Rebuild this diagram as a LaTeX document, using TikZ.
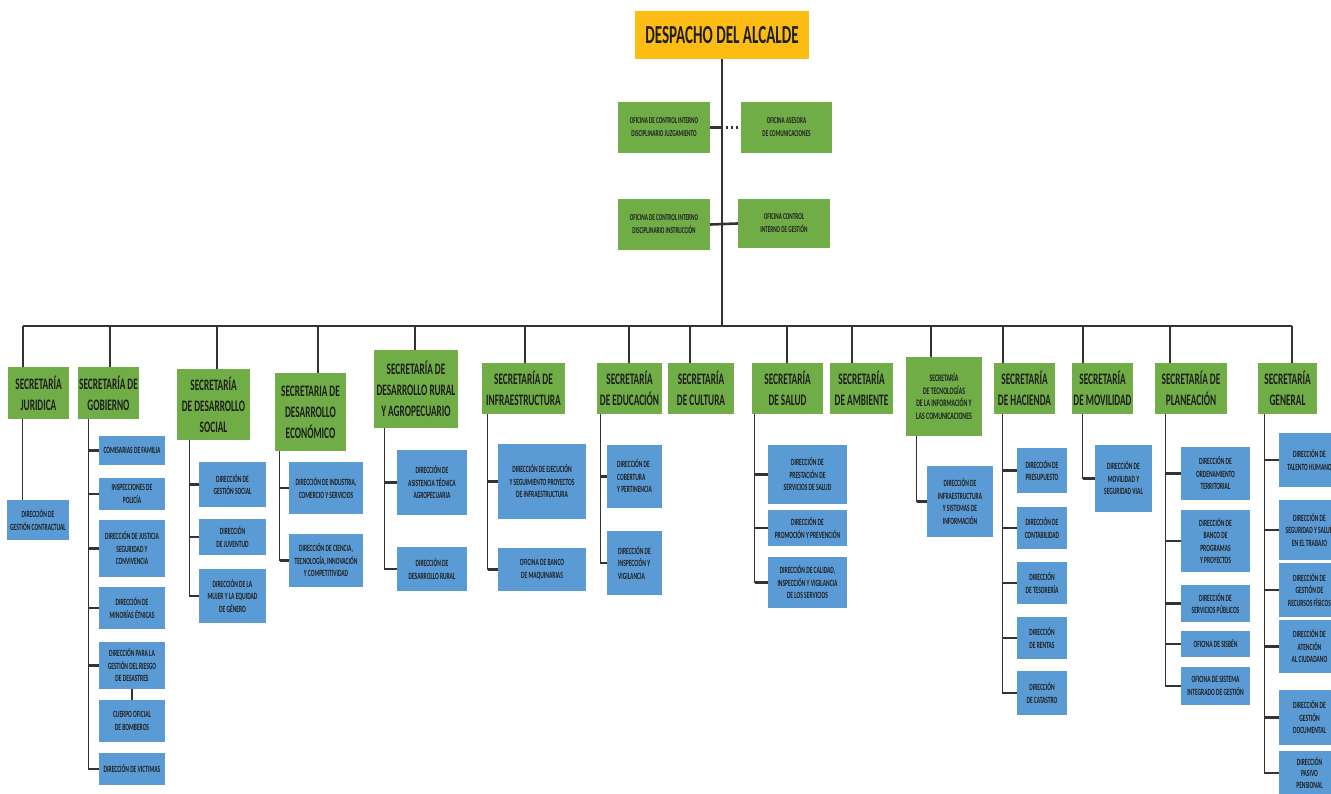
\documentclass[tikz,border=0pt]{standalone}
\usepackage{fontspec}
\setmainfont{Carlito}
\newfontfamily\narrowfont[FakeStretch=0.58]{Carlito}
\usetikzlibrary{calc}
\definecolor{alcgold}{RGB}{252,188,20}
\definecolor{secgreen}{RGB}{112,173,71}
\definecolor{dirblue}{RGB}{91,155,213}
\definecolor{txtdark}{RGB}{30,30,30}

\begin{document}
\begin{tikzpicture}[x=1pt,y=-1pt,
 sz/.style 2 args={minimum width=#1,minimum height=#2,inner sep=0pt,align=center,text=txtdark},
 alc/.style={fill=alcgold,font=\narrowfont\bfseries\fontsize{26}{30}\selectfont},
 ofi/.style={fill=secgreen,font=\narrowfont\bfseries\fontsize{9}{13}\selectfont},
 sec/.style={fill=secgreen,font=\narrowfont\bfseries\fontsize{16}{21}\selectfont},
 dir/.style={fill=dirblue,font=\narrowfont\bfseries\fontsize{9.5}{12.5}\selectfont},
 conn/.style={draw=black!80,line width=1.3pt},
 tick/.style={draw=black!80,line width=2.6pt}]
\useasboundingbox (0,0) rectangle (1331,794);
\clip (0,0) rectangle (1331,794);
%despacho
  \node[alc,sz={174}{48}] (alc) at (722,35) {DESPACHO DEL ALCALDE};
%oficinas
  \node[ofi,sz={92}{51}] (ocj) at (664,127.5) {OFICINA DE CONTROL INTERNO\\DISCIPLINARIO JUZGAMIENTO};
  \node[ofi,sz={91}{51}] (oac) at (786.5,127.5) {OFICINA ASESORA\\DE COMUNICACIONES};
  \node[ofi,sz={92}{51}] (oci) at (664,224.5) {OFICINA DE CONTROL INTERNO\\DISCIPLINARIO INSTRUCCIÓN};
  \node[ofi,sz={92}{49}] (ocg) at (784,223.5) {OFICINA CONTROL\\INTERNO DE GESTIÓN};
%secretarias
  \node[sec,sz={61}{52}] (jur) at (38.5,393) {SECRETARÍA\\JURIDICA};
  \node[sec,sz={61}{52}] (gob) at (108.5,393) {SECRETARÍA DE\\GOBIERNO};
  \node[sec,sz={73}{71}] (soc) at (213.5,404.5) {SECRETARÍA\\DE DESARROLLO\\SOCIAL};
  \node[sec,sz={71}{78}] (eco) at (310.5,412) {SECRETARIA DE\\DESARROLLO\\ECONÓMICO};
  \node[sec,sz={84}{78}] (rur) at (416,389) {SECRETARÍA DE\\DESARROLLO RURAL\\Y AGROPECUARIO};
  \node[sec,sz={83}{51}] (inf) at (523.5,388.5) {SECRETARÍA DE\\INFRAESTRUCTURA};
  \node[sec,sz={65}{51}] (edu) at (629.5,388.5) {SECRETARÍA\\DE EDUCACIÓN};
  \node[sec,sz={66}{51}] (cul) at (701,388.5) {SECRETARÍA\\DE CULTURA};
  \node[sec,sz={71}{51}] (sal) at (787.5,388.5) {SECRETARÍA\\DE SALUD};
  \node[sec,sz={63}{51}] (amb) at (861.5,388.5) {SECRETARÍA\\DE AMBIENTE};
  \node[sec,sz={76}{79},font=\narrowfont\bfseries\fontsize{10}{12.5}\selectfont] (tic) at (944,396.5)
    {SECRETARÍA\\DE TECNOLOGÍAS\\DE LA INFORMACIÓN Y\\LAS COMUNICACIONES};
  \node[sec,sz={61}{51}] (hac) at (1024.5,388.5) {SECRETARÍA\\DE HACIENDA};
  \node[sec,sz={61}{51}] (mov) at (1102.5,388.5) {SECRETARÍA\\DE MOVILIDAD};
  \node[sec,sz={72}{51}] (pla) at (1191,388.5) {SECRETARÍA DE\\PLANEACIÓN};
  \node[sec,sz={59}{51}] (gen) at (1287.5,388.5) {SECRETARÍA\\GENERAL};
%juridica
  \node[dir,sz={62}{40}] (jur1) at (38,520) {DIRECCIÓN DE\\GESTIÓN CONTRACTUAL};
%gobierno
  \node[dir,sz={66}{29}] (gob1) at (132,450.5) {COMISARIAS DE FAMILIA};
  \node[dir,sz={66}{32}] (gob2) at (132,494) {INSPECCIONES DE\\POLICÍA};
  \node[dir,sz={66}{57}] (gob3) at (132,548.5) {DIRECCIÓN DE JUSTICIA\\SEGURIDAD Y\\CONVIVENCIA};
  \node[dir,sz={66}{42}] (gob4) at (132,608) {DIRECCIÓN DE\\MINORÍAS ÉTNICAS};
  \node[dir,sz={66}{47}] (gob5) at (132,665.5) {DIRECCIÓN PARA LA\\GESTIÓN DEL RIESGO\\DE DESASTRES};
  \node[dir,sz={66}{42}] (gob6) at (132,721) {CUERPO OFICIAL\\DE BOMBEROS};
  \node[dir,sz={66}{32}] (gob7) at (132,769) {DIRECCIÓN DE VICTIMAS};
%desarrollo social
  \node[dir,sz={67}{45}] (soc1) at (232.5,484.5) {DIRECCIÓN DE\\GESTIÓN SOCIAL};
  \node[dir,sz={67}{36}] (soc2) at (232.5,537) {DIRECCIÓN\\DE JUVENTUD};
  \node[dir,sz={67}{54}] (soc3) at (232.5,596) {DIRECCIÓN DE LA\\MUJER Y LA EQUIDAD\\DE GÉNERO};
%desarrollo economico
  \node[dir,sz={74}{52}] (eco1) at (326,488) {DIRECCIÓN DE INDUSTRIA,\\COMERCIO Y SERVICIOS};
  \node[dir,sz={74}{53}] (eco2) at (326,560.5) {DIRECCIÓN DE CIENCIA,\\TECNOLOGÍA, INNOVACIÓN\\Y COMPETITIVIDAD};
%rural
  \node[dir,sz={70}{65}] (rur1) at (432,482.5) {DIRECCIÓN DE\\ASISTENCIA TÉCNICA\\AGROPECUARIA};
  \node[dir,sz={70}{44}] (rur2) at (432,569) {DIRECCIÓN DE\\DESARROLLO RURAL};
%infraestructura
  \node[dir,sz={88}{75}] (inf1) at (542,481.5) {DIRECCIÓN DE EJECUCIÓN\\Y SEGUIMIENTO PROYECTOS\\DE INFRAESTRUCTURA};
  \node[dir,sz={88}{43}] (inf2) at (542,569.5) {OFICINA DE BANCO\\DE MAQUINARIAS};
%educacion
  \node[dir,sz={55}{63},align=left] (edu1) at (634.5,476.5) {DIRECCIÓN DE\\COBERTURA\\Y PERTINENCIA};
  \node[dir,sz={55}{64},align=left] (edu2) at (634.5,563) {DIRECCIÓN DE\\INSPECCIÓN Y\\VIGILANCIA};
%salud
  \node[dir,sz={79}{59}] (sal1) at (807.5,474.5) {DIRECCIÓN DE\\PRESTACIÓN DE\\SERVICIOS DE SALUD};
  \node[dir,sz={79}{36}] (sal2) at (807.5,528) {DIRECCIÓN DE\\PROMOCIÓN Y PREVENCIÓN};
  \node[dir,sz={79}{51}] (sal3) at (807.5,582.5) {DIRECCIÓN DE CALIDAD,\\INSPECCIÓN Y VIGILANCIA\\DE LOS SERVICIOS};
%tic
  \node[dir,sz={66}{71}] (tic1) at (960,501.5) {DIRECCIÓN DE\\INFRAESTRUCTURA\\Y SISTEMAS DE\\INFORMACIÓN};
%hacienda
  \node[dir,sz={50}{45}] (hac1) at (1042,470.5) {DIRECCIÓN DE\\PRESUPUESTO};
  \node[dir,sz={50}{42}] (hac2) at (1042,528) {DIRECCIÓN DE\\CONTABILIDAD};
  \node[dir,sz={50}{42}] (hac3) at (1042,583) {DIRECCIÓN\\DE TESORERÍA};
  \node[dir,sz={50}{42}] (hac4) at (1042,638) {DIRECCIÓN\\DE RENTAS};
  \node[dir,sz={50}{44}] (hac5) at (1042,693) {DIRECCIÓN\\DE CATASTRO};
%movilidad
  \node[dir,sz={57}{67}] (mov1) at (1123.5,478.5) {DIRECCIÓN DE\\MOVILIDAD Y\\SEGURIDAD VIAL};
%planeacion
  \node[dir,sz={69}{53}] (pla1) at (1215.5,473.5) {DIRECCIÓN DE\\ORDENAMIENTO\\TERRITORIAL};
  \node[dir,sz={69}{62}] (pla2) at (1215.5,541) {DIRECCIÓN DE\\BANCO DE\\PROGRAMAS\\Y PROYECTOS};
  \node[dir,sz={69}{37}] (pla3) at (1215.5,603.5) {DIRECCIÓN DE\\SERVICIOS PÚBLICOS};
  \node[dir,sz={69}{26}] (pla4) at (1215.5,644) {OFICINA DE SISBÉN};
  \node[dir,sz={69}{38}] (pla5) at (1215.5,686) {OFICINA DE SISTEMA\\INTEGRADO DE GESTIÓN};
%general
  \node[dir,sz={61}{54}] (gen1) at (1309.5,460) {DIRECCIÓN DE\\TALENTO HUMANO};
  \node[dir,sz={61}{60}] (gen2) at (1309.5,530) {DIRECCIÓN DE\\SEGURIDAD Y SALUD\\EN EL TRABAJO};
  \node[dir,sz={61}{54}] (gen3) at (1309.5,590) {DIRECCIÓN DE\\GESTIÓN DE\\RECURSOS FÍSICOS};
  \node[dir,sz={61}{53}] (gen4) at (1309.5,646.5) {DIRECCIÓN DE\\ATENCIÓN\\AL CIUDADANO};
  \node[dir,sz={61}{55}] (gen5) at (1309.5,717.5) {DIRECCIÓN DE\\GESTIÓN\\DOCUMENTAL};
  \node[dir,sz={61}{44},font=\narrowfont\bfseries\fontsize{9.5}{11.5}\selectfont] (gen6) at (1309.5,773)
    {DIRECCIÓN\\PASIVO\\PENSIONAL};
%bus
  \coordinate (d1) at (23,326);   \coordinate (d2) at (110,326);
  \coordinate (d3) at (217,326);  \coordinate (d4) at (318,326);
  \coordinate (d5) at (415,326);  \coordinate (d6) at (525,326);
  \coordinate (d7) at (629,326);  \coordinate (d8) at (690,326);
  \coordinate (d9) at (787,326);  \coordinate (d10) at (852,326);
  \coordinate (d11) at (931,326); \coordinate (d12) at (1003,326);
  \coordinate (d13) at (1083,326); \coordinate (d14) at (1170,326);
  \coordinate (d15) at (1292,326);
  \draw[conn,line width=1.8pt] (d1) -- (d15);
  \draw[conn] (alc.south) -- (alc.south |- d1);
  \draw[tick] (ocj.east) -- (ocj.east -| alc.south);
  \draw[tick,dash pattern=on 2pt off 3pt] ([xshift=4pt]ocj.east -| alc.south) -- (oac.west);
  \draw[tick] (oci.east) -- (ocg.west);
  \foreach \d/\s in {d1/jur,d2/gob,d3/soc,d4/eco,d5/rur,d6/inf,d7/edu,d8/cul,
                     d9/sal,d10/amb,d11/tic,d12/hac,d13/mov,d14/pla,d15/gen}
    \draw[conn] (\d) -- (\d |- \s.north);
%spines
  \coordinate (jurs) at ([xshift=15pt]jur.south west);
  \coordinate (gobs) at ([xshift=11pt]gob.south west);
  \coordinate (socs) at ([xshift=13pt]soc.south west);
  \coordinate (ecos) at ([xshift=5pt]eco.south west);
  \coordinate (rurs) at ([xshift=11pt]rur.south west);
  \coordinate (infs) at ([xshift=6pt]inf.south west);
  \coordinate (edus) at ([xshift=4pt]edu.south west);
  \coordinate (sals) at ([xshift=3pt]sal.south west);
  \coordinate (tics) at ([xshift=11pt]tic.south west);
  \coordinate (hacs) at ([xshift=9pt]hac.south west);
  \coordinate (movs) at ([xshift=11pt]mov.south west);
  \coordinate (plas) at ([xshift=11pt]pla.south west);
  \coordinate (gens) at ([xshift=7pt]gen.south west);
  \draw[conn] (jurs) -- (jurs |- jur1.north);
  \draw[conn] (gob5.south) -- (gob6.north);
  \foreach \s/\n in {gobs/gob1,gobs/gob2,gobs/gob3,gobs/gob4,gobs/gob5,gobs/gob7,
                     socs/soc1,socs/soc2,socs/soc3,ecos/eco1,ecos/eco2,
                     rurs/rur1,rurs/rur2,infs/inf1,infs/inf2,edus/edu1,edus/edu2,
                     sals/sal1,sals/sal2,sals/sal3,tics/tic1,
                     hacs/hac1,hacs/hac2,hacs/hac3,hacs/hac4,hacs/hac5,movs/mov1,
                     plas/pla1,plas/pla2,plas/pla3,plas/pla4,plas/pla5,
                     gens/gen1,gens/gen2,gens/gen3,gens/gen4,gens/gen5,gens/gen6}{
    \draw[conn] (\s) |- (\n.west);
    \draw[tick] (\s |- \n.west) -- (\n.west);}
\end{tikzpicture}
\end{document}
